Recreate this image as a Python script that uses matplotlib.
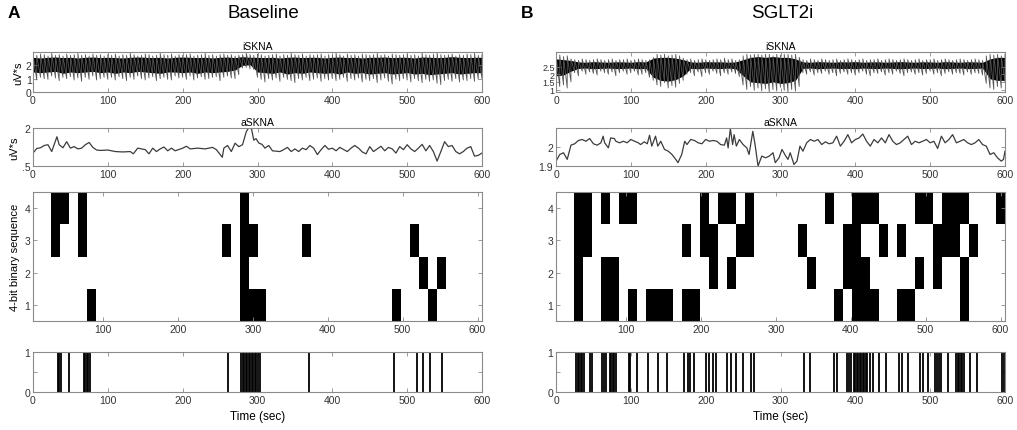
import numpy as np
import matplotlib
matplotlib.use("Agg")
import matplotlib.pyplot as plt

plt.rcParams['font.family'] = ['Liberation Sans', 'DejaVu Sans']

# ---- iSKNA (read as band envelopes every 5 s / 10 s) ----
t5 = np.arange(0, 601, 5)
t10 = np.arange(0, 601, 10)

base_spk_lo = [1.0, 0.9, 1.1, 1.0, 0.95,
               1.2, 1.05, 0.85, 1.1, 1.0,
               1.15, 0.9, 1.05, 0.8, 1.1, 0.95, 1.2, 0.9, 1.0, 1.1,
               0.95, 1.1, 0.9, 1.15, 1.0, 0.85, 1.1, 0.95, 1.2, 1.0,
               0.9, 1.05, 1.15, 0.85, 1.0, 1.1, 0.95, 0.9, 1.2, 1.05,
               1.1, 0.95, 1.2, 0.9, 1.05, 1.15, 0.95, 1.0, 1.1, 1.15,
               0.85, 1.1, 1.2, 1.05, 1.0, 1.3,
               1.8, 1.85, 1.75, 1.7,
               1.1, 0.95, 0.75, 1.0, 0.9, 1.05, 0.8, 1.1, 0.95, 0.85,
               0.7, 1.0, 0.9, 1.1, 0.85, 0.95, 1.05, 0.8, 1.0, 0.9,
               1.0, 0.85, 0.95, 1.1, 0.8, 1.0, 0.9, 1.05, 0.75, 0.95,
               0.85, 1.0, 0.7, 0.9, 1.05, 0.8, 0.6, 0.95, 0.85, 1.0,
               0.9, 0.75, 1.0, 0.85, 0.7, 0.95, 0.8, 0.9, 0.65, 0.55,
               0.85, 0.95, 0.8, 1.0, 0.75, 0.9, 0.85, 1.0, 0.8, 0.95, 1.0]
base_spk_hi = [2.8, 2.75, 2.85, 2.8, 2.7, 2.9, 2.75, 2.8, 2.7, 2.85,
               2.75, 2.8, 2.9, 2.75, 2.8, 2.7, 2.85, 2.75, 2.8, 2.7,
               2.8, 2.75, 2.85, 2.7, 2.8, 2.75, 2.9, 2.8, 2.7, 2.75,
               2.85, 2.8, 2.7, 2.75, 2.9, 2.8, 2.75, 2.85, 2.7, 2.8,
               2.75, 2.8, 2.85, 2.7, 2.75, 2.8, 2.9, 2.75, 2.8, 2.7,
               2.8, 2.85, 2.75, 2.8, 2.7, 2.75, 2.8, 2.9, 2.8, 2.75,
               2.85, 2.8, 2.7, 2.75, 2.8, 2.85, 2.7, 2.8, 2.75, 2.9,
               2.8, 2.75, 2.85, 2.7, 2.8, 2.75, 2.8, 2.85, 2.7, 2.8,
               2.75, 2.9, 2.8, 2.7, 2.85, 2.75, 2.8, 2.7, 2.85, 2.8,
               2.75, 2.8, 2.9, 2.75, 2.8, 2.7, 2.85, 2.8, 2.75, 2.8,
               2.85, 2.75, 2.8, 2.7, 2.9, 2.8, 2.75, 2.85, 2.95, 2.8,
               2.75, 2.8, 2.85, 2.7, 2.8, 2.75, 2.85, 2.8, 2.9, 2.75, 2.8]
base_core_hi = [2.6, 2.55, 2.6, 2.62, 2.58, 2.6, 2.55, 2.6, 2.62, 2.58,
                2.6, 2.58, 2.55, 2.6, 2.62, 2.6, 2.58, 2.6, 2.55, 2.6,
                2.62, 2.6, 2.58, 2.6, 2.55, 2.6, 2.62, 2.58, 2.65, 2.6,
                2.6, 2.58, 2.6, 2.55, 2.6, 2.62, 2.58, 2.6, 2.6, 2.55,
                2.6, 2.62, 2.58, 2.6, 2.55, 2.6, 2.6, 2.62, 2.58, 2.6,
                2.6, 2.55, 2.62, 2.6, 2.58, 2.6, 2.65, 2.6, 2.58, 2.6, 2.6]
base_core_lo = [1.5, 1.45, 1.5, 1.55, 1.4, 1.5, 1.45, 1.5, 1.55, 1.45,
                1.5, 1.4, 1.5, 1.45, 1.55, 1.5, 1.45, 1.4, 1.5, 1.5,
                1.45, 1.5, 1.4, 1.5, 1.45, 1.5, 1.55, 1.65, 2.0, 2.05,
                1.5, 1.45, 1.4, 1.5, 1.35, 1.45, 1.4, 1.5, 1.45, 1.4,
                1.45, 1.35, 1.5, 1.4, 1.45, 1.35, 1.4, 1.45, 1.35, 1.4,
                1.45, 1.35, 1.4, 1.3, 1.35, 1.4, 1.45, 1.35, 1.4, 1.45, 1.45]

sglt_spk_lo = [1.6, 1.2, 1.3, 1.1, 1.5,
               2.1, 1.9, 2.2, 2.0, 2.15,
               2.05, 1.95, 2.2, 2.1, 2.0, 2.15, 1.9, 2.1, 2.2, 2.0,
               2.1, 2.2, 1.95, 2.0, 2.1, 1.8,
               1.6, 1.3, 1.2, 1.45, 1.1, 1.25, 1.15, 1.4, 1.6,
               2.0, 2.1, 1.9, 2.15, 1.85, 2.1, 2.0, 2.2, 2.05, 1.9, 2.1, 2.0, 2.15, 2.05, 1.85,
               1.3, 1.0, 1.2, 0.95, 1.1, 0.9, 1.05, 0.85, 1.0, 0.9, 1.15, 0.95, 0.85, 1.0, 0.9, 1.2,
               2.1, 2.0, 2.15, 1.95, 2.1, 2.05, 2.2, 2.0, 2.1, 1.9,
               2.05, 2.15, 2.0, 2.1, 1.95, 2.1, 2.2, 2.0, 1.9, 2.1,
               2.05, 2.15, 1.95, 2.1, 2.0, 2.2, 2.05, 1.9, 2.1, 2.15,
               2.0, 2.1, 1.95, 2.05, 2.2, 2.0, 2.1, 1.9, 2.05, 2.15,
               2.0, 2.1, 2.05, 1.95, 2.15, 2.0, 2.1, 2.05, 1.95,
               1.4, 1.1, 1.0, 1.2, 1.1, 1.5]
sglt_spk_hi = [3.2, 3.25, 3.15, 3.2, 3.0,
               2.95, 2.9, 3.0, 2.95, 2.9, 2.95, 3.0, 2.95, 2.9, 2.95, 3.0,
               2.9, 2.95, 2.95, 3.0, 2.9, 2.95, 3.0, 2.95, 2.9, 2.95,
               3.1, 3.3, 3.25, 3.3, 3.2, 3.25, 3.3, 3.2, 3.05,
               2.95, 3.0, 2.9, 2.95, 3.0, 2.95, 2.9, 2.95, 3.0, 2.95, 3.05, 2.95, 3.0, 2.9, 2.95,
               3.2, 3.3, 3.25, 3.3, 3.3, 3.25, 3.3, 3.3, 3.2, 3.3, 3.25, 3.3, 3.3, 3.25, 3.3, 3.1,
               2.95, 2.9, 3.0, 2.95, 2.9, 3.0, 2.95, 2.9, 2.95, 3.0,
               2.9, 2.95, 3.0, 2.95, 2.9, 2.95, 3.0, 2.9, 2.95, 2.95,
               3.0, 2.9, 2.95, 3.0, 2.95, 2.9, 2.95, 3.0, 2.95, 2.9,
               2.95, 3.0, 2.9, 2.95, 2.95, 3.0, 2.9, 2.95, 3.0, 2.95,
               2.9, 2.95, 3.0, 2.95, 2.9, 2.95, 3.0, 2.95, 2.9,
               3.2, 3.3, 3.25, 3.3, 3.2, 3.3]
sglt_core_hi = [3.0, 2.95, 2.9,
                2.8, 2.78, 2.82, 2.8, 2.78, 2.81, 2.8, 2.78, 2.82, 2.8,
                3.05, 3.1, 3.1, 3.05, 2.95,
                2.8, 2.78, 2.82, 2.8, 2.81, 2.78, 2.8,
                2.95, 3.1, 3.15, 3.1, 3.15, 3.1, 3.1, 3.0,
                2.8, 2.78, 2.82, 2.8, 2.78, 2.81, 2.8, 2.82, 2.78, 2.8,
                2.81, 2.78, 2.8, 2.82, 2.8, 2.78, 2.81, 2.8, 2.78, 2.82,
                2.8, 2.78, 2.81, 2.8, 2.78,
                3.0, 3.1, 3.1]
sglt_core_lo = [1.9, 1.95, 2.2,
                2.38, 2.4, 2.36, 2.38, 2.4, 2.37, 2.38, 2.4, 2.36, 2.38,
                1.8, 1.6, 1.55, 1.65, 1.9,
                2.38, 2.36, 2.4, 2.38, 2.37, 2.4, 2.36,
                1.9, 1.5, 1.45, 1.4, 1.5, 1.4, 1.45, 1.6,
                2.38, 2.4, 2.36, 2.38, 2.4, 2.37, 2.38, 2.36, 2.4, 2.38,
                2.37, 2.4, 2.38, 2.36, 2.38, 2.4, 2.37, 2.38, 2.4, 2.36,
                2.38, 2.4, 2.37, 2.38, 2.4,
                1.7, 1.6, 1.6]

# ---- aSKNA ----
base_a_t = [0, 5, 10, 15, 20, 25, 32, 35, 40, 45,
            50, 55, 60, 65, 70, 75, 80, 85, 90, 100,
            110, 120, 130, 134, 140, 150, 155, 160, 165, 170,
            175, 180, 185, 190, 200, 205, 210, 220, 230, 240,
            245, 253, 255, 260, 265, 270, 275, 280, 285, 288,
            292, 295, 298, 302, 306, 310, 315, 320, 330, 335,
            340, 345, 350, 355, 360, 365, 370, 375, 380, 385,
            390, 395, 400, 405, 410, 420, 425, 430, 435, 440,
            445, 450, 455, 460, 465, 470, 475, 480, 485, 490,
            495, 500, 505, 510, 515, 520, 525, 530, 535, 540,
            545, 550, 555, 560, 565, 570, 575, 580, 585, 590,
            595, 600]
base_a_v = [1.67, 1.73, 1.74, 1.77, 1.78, 1.69, 1.885, 1.78, 1.74, 1.82,
            1.735, 1.755, 1.725, 1.735, 1.78, 1.81, 1.745, 1.71, 1.705, 1.71,
            1.69, 1.685, 1.69, 1.66, 1.735, 1.715, 1.66, 1.735, 1.69, 1.725,
            1.75, 1.70, 1.735, 1.70, 1.735, 1.76, 1.725, 1.735, 1.725, 1.745,
            1.715, 1.615, 1.735, 1.77, 1.69, 1.80, 1.755, 1.78, 1.95, 2.0,
            1.99, 1.84, 1.86, 1.80, 1.785, 1.735, 1.77, 1.70, 1.69, 1.715,
            1.745, 1.69, 1.725, 1.69, 1.735, 1.715, 1.77, 1.735, 1.65, 1.715,
            1.77, 1.72, 1.735, 1.70, 1.745, 1.69, 1.735, 1.77, 1.735, 1.685,
            1.66, 1.755, 1.69, 1.725, 1.76, 1.70, 1.745, 1.725, 1.67, 1.755,
            1.715, 1.78, 1.725, 1.69, 1.735, 1.785, 1.70, 1.77, 1.69, 1.565,
            1.69, 1.82, 1.755, 1.77, 1.69, 1.66, 1.69, 1.735, 1.755, 1.63,
            1.64, 1.67]

sglt_a_t = [0, 5, 10, 15, 20, 25, 30, 35, 40, 45,
            50, 55, 60, 63, 65, 70, 73, 78, 80, 85,
            90, 95, 100, 105, 110, 113, 118, 122, 125, 128,
            133, 136, 140, 145, 150, 155, 160, 163, 168, 172,
            175, 180, 185, 190, 195, 200, 205, 210, 215, 220,
            225, 228, 230, 233, 236, 238, 241, 245, 250, 255,
            258, 263, 266, 270, 275, 280, 285, 290, 293, 298,
            302, 307, 310, 313, 318, 322, 326, 330, 335, 340,
            345, 350, 355, 360, 365, 370, 375, 380, 385, 390,
            395, 400, 405, 410, 415, 420, 425, 430, 435, 440,
            445, 450, 455, 460, 465, 470, 475, 480, 485, 490,
            495, 500, 505, 510, 515, 520, 525, 530, 535, 540,
            545, 550, 555, 560, 565, 570, 575, 580, 585, 590,
            595, 598, 600]
sglt_a_v = [1.925, 1.959, 1.968, 1.934, 2.007, 2.014, 2.031, 2.036, 2.027, 2.041,
            2.014, 2.007, 2.019, 2.053, 2.019, 1.993, 2.044, 2.041, 2.027, 2.019,
            2.027, 2.019, 2.036, 2.027, 2.019, 2.010, 2.024, 2.014, 2.058, 2.002,
            2.053, 2.002, 2.027, 1.985, 1.976, 1.959, 1.934, 1.917, 1.959, 2.027,
            2.010, 2.036, 2.031, 2.019, 2.014, 2.036, 2.027, 2.031, 2.027, 2.010,
            2.007, 2.044, 1.993, 2.092, 2.010, 2.061, 2.002, 2.036, 2.010, 1.993,
            1.959, 2.078, 2.010, 1.900, 1.951, 1.942, 1.951, 1.968, 1.917, 1.942,
            1.985, 1.951, 1.934, 1.968, 1.908, 1.925, 2.002, 1.976, 2.019, 2.036,
            2.027, 2.036, 2.010, 2.024, 2.014, 2.019, 2.053, 2.002, 2.027, 2.061,
            2.019, 2.036, 2.044, 2.064, 2.027, 2.002, 2.036, 2.019, 2.044, 2.019,
            2.061, 2.027, 2.010, 2.019, 2.036, 2.053, 2.010, 2.027, 2.019, 2.027,
            2.036, 2.019, 2.027, 1.990, 2.053, 2.019, 2.036, 2.061, 2.019, 2.027,
            2.036, 2.019, 2.010, 2.019, 2.036, 2.010, 2.002, 1.959, 1.968, 1.942,
            1.925, 1.934, 1.976]

# ---- 4-bit binary sequence: 12-s window centres where each bit is 1 ----
win_centres = np.arange(12, 601, 12)
base_bits = [[84, 288, 300, 312, 492, 540],
             [288, 528, 552],
             [36, 72, 264, 288, 300, 372, 516],
             [36, 48, 72, 288]]
sglt_bits = [[36, 72, 84, 108, 132, 144, 156, 180, 192, 384, 408, 420, 432, 468, 480, 552],
             [36, 72, 84, 216, 240, 348, 396, 408, 420, 492, 516, 552],
             [36, 48, 180, 204, 216, 252, 264, 336, 396, 408, 444, 468, 516, 528, 540, 564],
             [36, 48, 72, 96, 108, 204, 228, 240, 264, 372, 408, 420, 432, 492, 504, 528, 540, 552, 600]]

# ---- detected bursts (sec) ----
base_events = [33, 35, 37, 48, 68, 70, 72, 74, 76, 261, 278, 280, 282, 284, 286, 288, 290,
               292, 294, 296, 298, 301, 304, 369, 482, 513, 521, 530, 546]
sglt_events = [27, 29, 31, 33, 35, 37, 45, 48, 62, 64, 67, 72, 74, 76, 78, 80, 97, 99, 108,
               123, 136, 148, 171, 176, 179, 184, 201, 205, 210, 214, 228, 234, 240, 250,
               261, 264, 332, 340, 372, 375, 389, 392, 394, 398, 400, 402, 404, 406, 408,
               410, 412, 414, 416, 419, 423, 432, 441, 458, 463, 470, 486, 491, 497, 506,
               509, 512, 514, 524, 535, 537, 539, 541, 543, 545, 553, 562, 596, 598]

W, H = 1017, 431
fig = plt.figure(figsize=(W / 100, H / 100), dpi=100)

def rect(x0, top, x1, bottom):
    return [x0 / W, 1 - bottom / H, (x1 - x0) / W, (bottom - top) / H]

def style(ax):
    for s in ax.spines.values():
        s.set_color('#8a8a8a')
        s.set_linewidth(0.8)
    ax.tick_params(direction='in', top=True, right=True, length=3, width=0.6,
                   color='#8a8a8a', labelcolor='#333333', labelsize=7.5, pad=2)

cols = [(33, 482), (556, 1005)]
panels = [
    dict(lo=base_spk_lo, hi=base_spk_hi, clo=base_core_lo, chi=base_core_hi,
         at=base_a_t, av=base_a_v, bits=base_bits, ev=base_events,
         iy=(0, 3.0), iticks=[0, 1, 2], iticklab=['0', '1', '2'], ifs=7.5,
         ay=(1.5, 2.0), aticks=[1.5, 2], aticklab=['.5', '2']),
    dict(lo=sglt_spk_lo, hi=sglt_spk_hi, clo=sglt_core_lo, chi=sglt_core_hi,
         at=sglt_a_t, av=sglt_a_v, bits=sglt_bits, ev=sglt_events,
         iy=(0.84, 3.45), iticks=[1, 1.5, 2, 2.5], iticklab=['1', '1.5', '2', '2.5'], ifs=6.5,
         ay=(1.9, 2.095), aticks=[1.9, 2], aticklab=['1.9', '2']),
]

for i, (p, (x0, x1)) in enumerate(zip(panels, cols)):
    # iSKNA: dense core plus spike extremes drawn as a saw-tooth trace
    ax = fig.add_axes(rect(x0, 53, x1, 93))
    zig_x = np.repeat(t5, 2)
    zig_y = np.ravel(np.column_stack([p['lo'], p['hi']]))
    ax.plot(zig_x, zig_y, color='#555555', lw=0.6)
    ax.fill_between(t10, p['clo'], p['chi'], color='black', lw=0)
    ax.set_xlim(0, 600)
    ax.set_ylim(*p['iy'])
    ax.set_yticks(p['iticks'])
    ax.set_yticklabels(p['iticklab'])
    ax.set_xticks(range(0, 601, 100))
    ax.set_title('iSKNA', fontsize=7.5, pad=2)
    style(ax)
    ax.tick_params(axis='y', labelsize=p['ifs'], pad=1)
    if i == 0:
        ax.set_ylabel('uV*s', fontsize=8, labelpad=2)

    # aSKNA
    ax = fig.add_axes(rect(x0, 129, x1, 167))
    ax.plot(p['at'], p['av'], color='#3c3c3c', lw=0.9)
    ax.set_xlim(0, 600)
    ax.set_ylim(*p['ay'])
    ax.set_yticks(p['aticks'])
    ax.set_yticklabels(p['aticklab'])
    ax.set_xticks(range(0, 601, 100))
    ax.set_title('aSKNA', fontsize=7.5, pad=2)
    style(ax)
    if i == 0:
        ax.set_ylabel('uV*s', fontsize=8, labelpad=2)

    # 4-bit binary raster
    ax = fig.add_axes(rect(x0, 193, x1, 322))
    mat = np.array([np.isin(win_centres, row) for row in p['bits']], dtype=float)
    edges_x = np.append(win_centres - 6, win_centres[-1] + 6)
    edges_y = np.arange(0.5, 4.51, 1)
    ax.pcolormesh(edges_x, edges_y, mat, cmap='gray_r', vmin=0, vmax=1)
    ax.set_xlim(6, 606)
    ax.set_ylim(0.5, 4.5)
    ax.set_xticks(range(100, 601, 100))
    ax.set_yticks([1, 2, 3, 4])
    style(ax)
    if i == 0:
        ax.set_ylabel('4-bit binary sequence', fontsize=8, labelpad=3)

    # detected bursts
    ax = fig.add_axes(rect(x0, 353, x1, 393))
    ax.vlines(p['ev'], 0, 1, color='black', lw=1.3)
    ax.set_xlim(0, 600)
    ax.set_ylim(0, 1)
    ax.set_yticks([0, 0.5, 1])
    ax.set_yticklabels(['0', '', '1'])
    ax.set_xticks(range(0, 601, 100))
    style(ax)
    ax.set_xlabel('Time (sec)', fontsize=8.5, labelpad=4)

fig.text(8 / W, 1 - 14 / H, 'A', fontsize=12.5, fontweight='bold', va='center', ha='left')
fig.text(263 / W, 1 - 13 / H, 'Baseline', fontsize=13.5, va='center', ha='center')
fig.text(521 / W, 1 - 14 / H, 'B', fontsize=12.5, fontweight='bold', va='center', ha='left')
fig.text(782 / W, 1 - 13 / H, 'SGLT2i', fontsize=13.5, va='center', ha='center')

fig.savefig('out.png', dpi=100)
